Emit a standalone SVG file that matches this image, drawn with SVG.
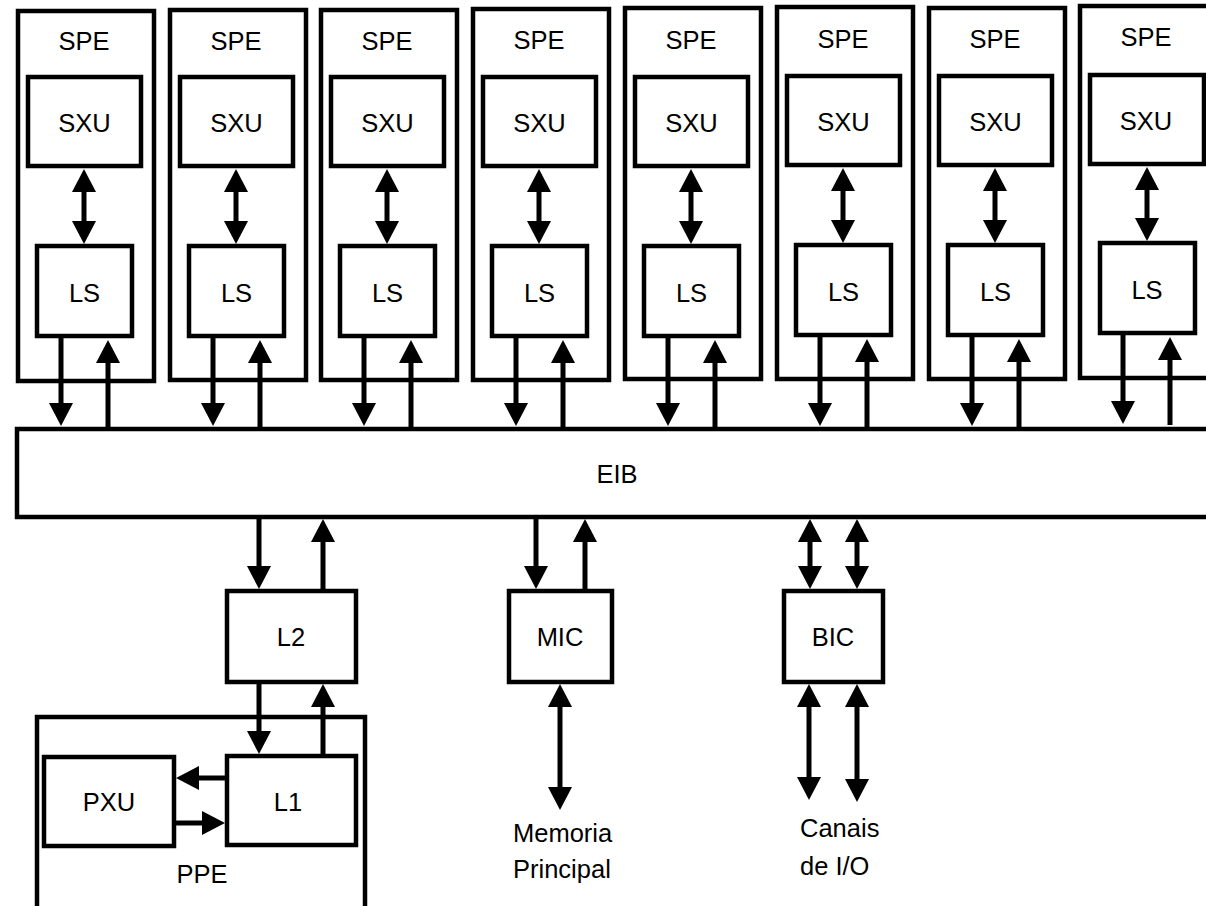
<svg xmlns="http://www.w3.org/2000/svg" width="1206" height="906" viewBox="0 0 1206 906">
<style>
.box{fill:#fff;stroke:#000;stroke-width:4.5}
.ln{fill:none;stroke:#000;stroke-width:5}
.a1{marker-end:url(#ah)}
.a2{marker-start:url(#ah);marker-end:url(#ah)}
text{font-family:"Liberation Sans",Arial,sans-serif;font-size:25.5px;fill:#000}
.c{text-anchor:middle}
</style>
<defs>
<marker id="ah" viewBox="0 0 23 24" refX="1" refY="12" markerWidth="23" markerHeight="24" markerUnits="userSpaceOnUse" orient="auto-start-reverse">
<path d="M0,0 L23,12 L0,24 z" fill="#000"/>
</marker>
</defs>
<rect width="1206" height="906" fill="#fff"/>

<g id="spe1"><rect class="box" x="18" y="11" width="136" height="370"/><text class="c" x="84" y="50">SPE</text></g>
<g id="sxu1"><rect class="box" x="28" y="77" width="113" height="89"/><text class="c" x="84.5" y="132">SXU</text></g>
<g id="ls1"><rect class="box" x="37" y="246" width="95" height="90"/><text class="c" x="84.5" y="302">LS</text></g>

<g id="spe2"><rect class="box" x="170" y="10" width="136" height="370"/><text class="c" x="236" y="50">SPE</text></g>
<g id="sxu2"><rect class="box" x="180" y="77" width="113" height="89"/><text class="c" x="236.5" y="132">SXU</text></g>
<g id="ls2"><rect class="box" x="189" y="246" width="95" height="90"/><text class="c" x="236.5" y="302">LS</text></g>

<g id="spe3"><rect class="box" x="321" y="10" width="136" height="370"/><text class="c" x="387" y="50">SPE</text></g>
<g id="sxu3"><rect class="box" x="331" y="77" width="113" height="89"/><text class="c" x="387.5" y="132">SXU</text></g>
<g id="ls3"><rect class="box" x="340" y="246" width="95" height="90"/><text class="c" x="387.5" y="302">LS</text></g>

<g id="spe4"><rect class="box" x="473" y="9" width="136" height="371"/><text class="c" x="539" y="49">SPE</text></g>
<g id="sxu4"><rect class="box" x="483" y="77" width="113" height="89"/><text class="c" x="539.5" y="132">SXU</text></g>
<g id="ls4"><rect class="box" x="492" y="246" width="95" height="90"/><text class="c" x="539.5" y="302">LS</text></g>

<g id="spe5"><rect class="box" x="625" y="8" width="136" height="371"/><text class="c" x="691" y="49">SPE</text></g>
<g id="sxu5"><rect class="box" x="635" y="77" width="113" height="89"/><text class="c" x="691.5" y="132">SXU</text></g>
<g id="ls5"><rect class="box" x="644" y="246" width="95" height="90"/><text class="c" x="691.5" y="302">LS</text></g>

<g id="spe6"><rect class="box" x="777" y="7" width="136" height="372"/><text class="c" x="843" y="48">SPE</text></g>
<g id="sxu6"><rect class="box" x="787" y="76" width="113" height="89"/><text class="c" x="843.5" y="131">SXU</text></g>
<g id="ls6"><rect class="box" x="796" y="245" width="95" height="90"/><text class="c" x="843.5" y="301">LS</text></g>

<g id="spe7"><rect class="box" x="929" y="8" width="136" height="371"/><text class="c" x="995" y="48">SPE</text></g>
<g id="sxu7"><rect class="box" x="939" y="76" width="113" height="89"/><text class="c" x="995.5" y="131">SXU</text></g>
<g id="ls7"><rect class="box" x="948" y="245" width="95" height="90"/><text class="c" x="995.5" y="301">LS</text></g>

<g id="spe8"><rect class="box" x="1080" y="6" width="136" height="372"/><text class="c" x="1146" y="46">SPE</text></g>
<g id="sxu8"><rect class="box" x="1090" y="75" width="114" height="89"/><text class="c" x="1146" y="130">SXU</text></g>
<g id="ls8"><rect class="box" x="1100" y="243" width="95" height="90"/><text class="c" x="1147" y="299">LS</text></g>

<g id="eib"><rect class="box" x="17" y="429" width="1200" height="88"/><text class="c" x="617" y="483">EIB</text></g>

<g id="l2"><rect class="box" x="227" y="591" width="129" height="91"/><text class="c" x="291" y="646">L2</text></g>
<g id="ppe"><rect class="box" x="37" y="717" width="328" height="200"/><text class="c" x="202" y="883">PPE</text></g>
<g id="pxu"><rect class="box" x="44" y="757" width="130" height="89"/><text class="c" x="109" y="811">PXU</text></g>
<g id="l1"><rect class="box" x="227" y="756" width="129" height="89"/><text class="c" x="288" y="811">L1</text></g>
<g id="mic"><rect class="box" x="509" y="591" width="103" height="91"/><text class="c" x="560" y="646">MIC</text></g>
<g id="bic"><rect class="box" x="784" y="591" width="99" height="91"/><text class="c" x="833" y="646">BIC</text></g>
<g id="mem"><text x="513" y="842">Memoria</text><text x="513" y="878">Principal</text></g>
<g id="io"><text x="800" y="837">Canais</text><text x="800" y="875">de I/O</text></g>

<g id="connectors">
<line class="ln a2" x1="84" y1="191" x2="84" y2="222"/>
<line class="ln a1" x1="61" y1="338" x2="61" y2="404"/>
<line class="ln a1" x1="108" y1="427" x2="108" y2="362"/>

<line class="ln a2" x1="236" y1="191" x2="236" y2="222"/>
<line class="ln a1" x1="213" y1="338" x2="213" y2="404"/>
<line class="ln a1" x1="260" y1="427" x2="260" y2="362"/>

<line class="ln a2" x1="387" y1="191" x2="387" y2="222"/>
<line class="ln a1" x1="364" y1="338" x2="364" y2="404"/>
<line class="ln a1" x1="411" y1="427" x2="411" y2="362"/>

<line class="ln a2" x1="539" y1="191" x2="539" y2="222"/>
<line class="ln a1" x1="516" y1="338" x2="516" y2="404"/>
<line class="ln a1" x1="563" y1="427" x2="563" y2="362"/>

<line class="ln a2" x1="691" y1="191" x2="691" y2="222"/>
<line class="ln a1" x1="668" y1="338" x2="668" y2="404"/>
<line class="ln a1" x1="715" y1="427" x2="715" y2="362"/>

<line class="ln a2" x1="843" y1="190" x2="843" y2="221"/>
<line class="ln a1" x1="820" y1="337" x2="820" y2="404"/>
<line class="ln a1" x1="867" y1="427" x2="867" y2="361"/>

<line class="ln a2" x1="995" y1="190" x2="995" y2="221"/>
<line class="ln a1" x1="972" y1="337" x2="972" y2="404"/>
<line class="ln a1" x1="1019" y1="427" x2="1019" y2="361"/>

<line class="ln a2" x1="1147" y1="189" x2="1147" y2="219"/>
<line class="ln a1" x1="1123" y1="335" x2="1123" y2="402"/>
<line class="ln a1" x1="1170" y1="425" x2="1170" y2="359"/>

<line class="ln a1" x1="259" y1="519" x2="259" y2="567"/>
<line class="ln a1" x1="323" y1="589" x2="323" y2="541"/>
<line class="ln a1" x1="259" y1="684" x2="259" y2="732"/>
<line class="ln a1" x1="323" y1="754" x2="323" y2="706"/>
<line class="ln a1" x1="225" y1="778" x2="198" y2="778"/>
<line class="ln a1" x1="176" y1="823" x2="203" y2="823"/>

<line class="ln a1" x1="536" y1="519" x2="536" y2="567"/>
<line class="ln a1" x1="585" y1="589" x2="585" y2="541"/>
<line class="ln a2" x1="560" y1="706" x2="560" y2="788"/>

<line class="ln a2" x1="810" y1="541" x2="810" y2="567"/>
<line class="ln a2" x1="857" y1="541" x2="857" y2="567"/>
<line class="ln a2" x1="809" y1="706" x2="809" y2="778"/>
<line class="ln a2" x1="857" y1="706" x2="857" y2="780"/>
</g>
</svg>
